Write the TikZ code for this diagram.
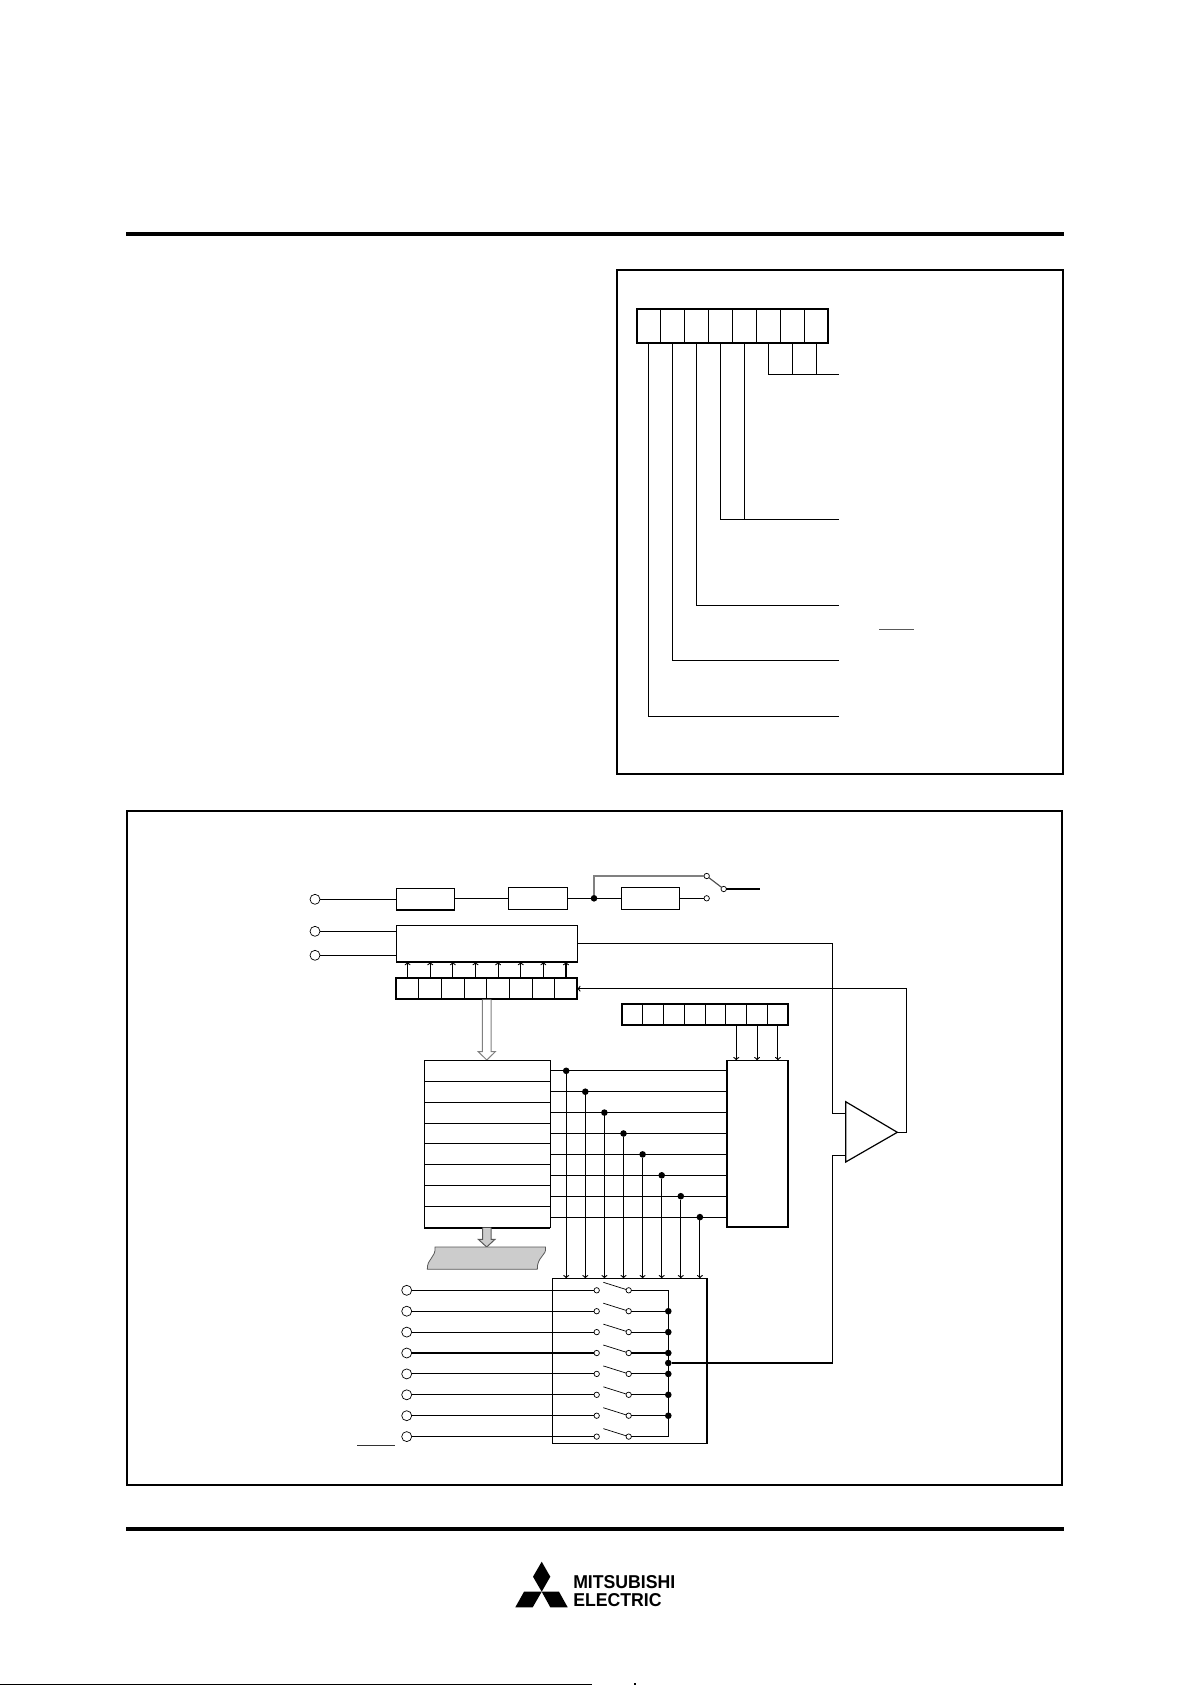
\documentclass[tikz,border=0pt]{standalone}
\usepackage{fontspec}
\setmainfont{Liberation Sans}
\begin{document}
\begin{tikzpicture}[x=1pt, y=-1pt, line width=1.15pt,
  box/.style = {draw, line width=1.4pt, outer sep=0pt, inner sep=0pt},
  pin/.style = {draw, circle, fill=white, line width=0.7pt, minimum size=10pt, inner sep=0pt, outer sep=0pt},
  post/.style = {draw, circle, fill=white, line width=0.7pt, minimum size=5.4pt, inner sep=0pt, outer sep=0pt},
  dot/.style = {fill, circle, minimum size=6.6pt, inner sep=0pt, outer sep=0pt},
  hollow/.style = {draw=gray, line width=1pt, fill=white},
  slab/.style = {draw=black!65, line width=0.8pt, fill=black!20},
  logotype/.style = {font=\bfseries\fontsize{18.6}{19}\selectfont, inner sep=0pt, anchor=west, xscale=0.95}]
\useasboundingbox (0,0) rectangle (1191,1685);

\draw[line width=4pt] (126,234) -- (1064,234);
\draw[line width=4pt] (126,1529) -- (1064,1529);
\draw[line width=2pt] (617,270) rectangle (1063,774);
\draw[line width=2pt] (127,811) rectangle (1062,1485);

\foreach \i in {0,...,7} \node[box, minimum width=23.95pt, minimum height=34pt] (bit\i) at ({648.7+23.95*\i},326) {};
\draw[line width=2pt] (bit0.south west) rectangle (bit7.north east);
\coordinate (out0) at (839,374.3);
\coordinate (out1) at (839,519.3);
\coordinate (out2) at (839,605.3);
\coordinate (out3) at (839,660.3);
\coordinate (out4) at (839,716.3);
\draw (bit5.south) |- (out0);
\draw (bit6.south) -- (bit6.south |- out0);
\draw (bit7.south) -- (bit7.south |- out0);
\draw (bit3.south) |- (out1);
\draw (bit4.south) -- (bit4.south |- out1);
\draw (bit2.south) |- (out2);
\draw (bit1.south) |- (out3);
\draw (bit0.south) |- (out4);
\draw[black!65] (879.3,629.3) -- (914,629.3);
\draw[black!80] (357,1445.3) -- (394.7,1445.3);

\node[pin] (ref) at (315,899.3) {};
\node[pin] (high) at (315,931.3) {};
\node[pin] (low) at (315,955.3) {};
\node[box, minimum width=58.4pt, minimum height=21.7pt] (buf) at (425.5,899.2) {};
\node[box, minimum width=58.6pt, minimum height=22pt] (amp) at (538,898.3) {};
\node[box, minimum width=58pt, minimum height=22pt] (sw) at (650.7,898.3) {};
\node[dot] (tee) at (594,898.3) {};
\node[post] (s1) at (706.7,898.3) {};
\node[post] (s2) at (706.7,876) {};
\node[post] (s3) at (723.7,889) {};
\coordinate (s4) at (760,889);
\draw (ref) -- (buf.west |- ref);
\draw (buf.east |- amp.west) -- (amp.west);
\draw (amp.east) -- (tee) -- (sw.west);
\draw (sw.east) -- (s1);
\draw[gray] (tee) |- (s2);
\draw[black!70] (s2) -- (s3);
\draw (s3) -- (s4);

\node[box, minimum width=181pt, minimum height=36.7pt] (conv) at (486.8,943.6) {};
\draw (high) -- (conv.west |- high);
\draw (low) -- (conv.west |- low);
\foreach \i in {0,...,7} {
  \node[box, line width=1pt, minimum width=22.625pt, minimum height=20.7pt] (latch\i) at ({407.6+22.625*\i},988.7) {};
  \draw[->] (latch\i.north) -- (conv.south -| latch\i.north);
}
\draw[line width=2pt] (latch0.south west) rectangle (latch7.north east);
\draw[hollow] (482.3,999.5) -- (482.3,1051.7) -- (478.3,1051.7) -- (486.8,1060) -- (495.3,1051.7) -- (491,1051.7) -- (491,999.5);

\foreach \i in {0,...,7} \node[box, line width=1pt, minimum width=20.83pt, minimum height=21pt] (sel\i) at ({632.1+20.83*\i},1014.5) {};
\draw[line width=2pt] (sel0.south west) rectangle (sel7.north east);
\node[box, minimum width=61.3pt, minimum height=166.7pt] (dec) at (757.3,1143.6) {};
\draw[line width=2pt] (dec.north east) -- (dec.south east);
\draw[line width=2pt] (dec.north west) -- (dec.south west) -- (dec.south east);
\foreach \i in {5,6,7} \draw[->] (sel\i.south) -- (dec.north -| sel\i.south);

\foreach \i in {0,...,7} {
  \node[box, line width=1pt, minimum width=126pt, minimum height=20.9pt] (rung\i) at (487.3,{1070.8+20.9*\i}) {};
  \node[dot] (tap\i) at ({566.2+19.1*\i},{1070.8+20.9*\i}) {};
  \draw (rung\i.east) -- (dec.west |- rung\i.east);
}
\draw[line width=2pt] (rung7.south west) -- (rung7.south east);

\node[box, line width=1.5pt, minimum width=154.3pt, minimum height=165pt] (mux) at (629.8,1360.8) {};
\foreach \i in {0,...,7} \draw[->] (tap\i) -- (mux.north -| tap\i);

\coordinate (bus0) at (668.3,1290.3);
\coordinate (bus1) at (668.3,1436.6);
\node[dot] (busmid) at (668.3,1363) {};
\draw (bus0) -- (bus1);
\foreach \i in {0,...,7} {
  \node[pin] (ain\i) at (406.7,{1290.3+20.9*\i}) {};
  \node[post] (cin\i) at (596.7,{1290.3+20.9*\i}) {};
  \node[post] (cout\i) at (628.7,{1290.3+20.9*\i}) {};
  \draw (ain\i) -- (cin\i);
  \draw (cout\i) -- (bus0 |- cout\i);
  \draw[line width=0.7pt] (cin\i) ++(6.6,-8) -- (cout\i);
}
\foreach \i in {1,...,6} \node[dot] (join\i) at (bus0 |- cout\i) {};

\draw[hollow, fill=black!20, draw=black!65] (482.7,1227.5) -- (482.7,1239.3) -- (478.3,1239.3) -- (486.7,1247) -- (495,1239.3) -- (491,1239.3) -- (491,1227.5);
\draw[slab] (435,1247) -- (545.5,1247) .. controls (547,1256) and (537,1256) .. (537.3,1269.3) -- (427.3,1269.3) .. controls (427,1258) and (436,1258) .. (435,1247) -- cycle;

\coordinate (inp) at (845.7,1113.3);
\coordinate (inm) at (845.7,1155.3);
\coordinate (cmp) at (897.3,1132.3);
\coordinate (turn1) at (832.3,1113.3);
\coordinate (turn2) at (832.3,1155.3);
\coordinate (back) at (906.3,1132.3);
\draw (conv.east) -| (turn1) -- (inp);
\draw (busmid) -| (turn2) -- (inm);
\draw[line width=1.2pt] (845.7,1101.7) -- (845.7,1162) -- (cmp) -- cycle;
\draw[->] (cmp) -- (back) |- (latch7.east);

\fill (541.7,1561.7) -- (550.3,1576.7) -- (541.7,1591.7) -- (533,1576.7) -- cycle;
\fill (541.7,1591.7) -- (524,1591.7) -- (515.3,1607.3) -- (532.7,1607.3) -- cycle;
\fill (541.7,1591.7) -- (559,1591.7) -- (567.7,1607.3) -- (550.3,1607.3) -- cycle;
\node[logotype] (name1) at (572.7,1582.5) {MITSUBISHI};
\node[logotype] (name2) at (572.7,1600.3) {ELECTRIC};
\draw (0,1684.3) -- (592,1684.3);
\draw (635,1683) -- (635,1685);
\end{tikzpicture}
\end{document}
